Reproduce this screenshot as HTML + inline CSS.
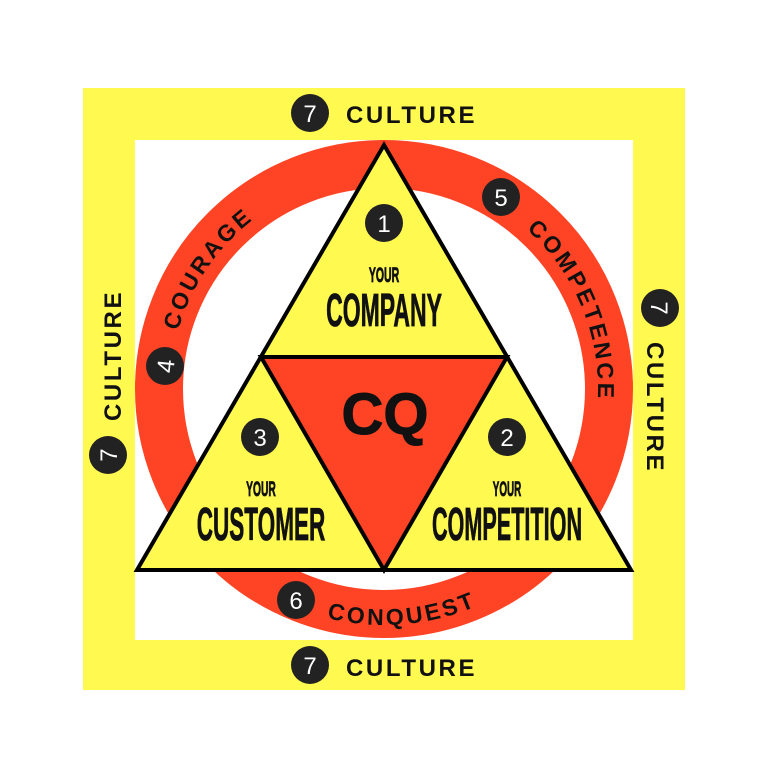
<!DOCTYPE html>
<html><head><meta charset="utf-8"><style>
html,body{margin:0;padding:0;background:#fff;}
svg{display:block}
.cul{font-family:"Liberation Sans",sans-serif;font-weight:bold;font-size:24px;letter-spacing:2.6px;fill:#111}
.num{font-family:"Liberation Sans",sans-serif;font-size:24px;fill:#fff;text-anchor:middle}
.ring{font-family:"Liberation Sans",sans-serif;font-weight:bold;font-size:23px;letter-spacing:3px;fill:#111}
.cond{font-family:"Liberation Sans",sans-serif;font-weight:bold;fill:#111;text-anchor:middle;stroke:#111;stroke-width:0.8}
</style></head><body>
<svg width="768" height="780" viewBox="0 0 768 780">
<defs>
<path id="topArc" d="M 198.7 496 A 214 214 0 1 1 569.3 496"/>
<path id="botArc" d="M 148 389 A 236 236 0 0 0 620 389"/>
</defs>
<rect x="83" y="88" width="602" height="602" fill="#fff950"/>
<rect x="135" y="140" width="498" height="500" fill="#fff"/>
<circle cx="384" cy="389" r="225" fill="none" stroke="#ff4425" stroke-width="48"/>
<polygon points="384,145 137,570 631,570" fill="#fff950" stroke="#000" stroke-width="4"/>
<polygon points="261,357 507,357 384,570" fill="#ff4425" stroke="#000" stroke-width="4"/>
<text class="ring"><textPath href="#topArc" startOffset="240" text-anchor="middle">COURAGE</textPath></text>
<text class="ring"><textPath href="#topArc" startOffset="700" text-anchor="middle">COMPETENCE</textPath></text>
<text class="ring"><textPath href="#botArc" startOffset="390" text-anchor="middle">CONQUEST</textPath></text>
<g>
<circle cx="310" cy="113" r="19" fill="#222"/><text class="num" x="310" y="122">7</text>
<circle cx="310" cy="665" r="19" fill="#222"/><text class="num" x="310" y="674">7</text>
<circle cx="108" cy="455" r="19" fill="#222"/><text class="num" transform="rotate(-90 108 455)" x="108" y="464">7</text>
<circle cx="660" cy="308" r="19" fill="#222"/><text class="num" transform="rotate(90 660 308)" x="660" y="317">7</text>
<circle cx="165" cy="366" r="19" fill="#222"/><text class="num" transform="rotate(-84 165 366)" x="165" y="375">4</text>
<circle cx="501" cy="197" r="19" fill="#222"/><text class="num" x="501" y="206">5</text>
<circle cx="296" cy="600" r="19" fill="#222"/><text class="num" x="296" y="609">6</text>
<circle cx="384" cy="223" r="19" fill="#222"/><text class="num" x="384" y="232">1</text>
<circle cx="260" cy="437" r="19" fill="#222"/><text class="num" x="260" y="446">3</text>
<circle cx="507" cy="437" r="19" fill="#222"/><text class="num" x="507" y="446">2</text>
</g>
<text class="cul" x="346" y="123">CULTURE</text>
<text class="cul" x="346" y="676">CULTURE</text>
<text class="cul" transform="translate(121 421) rotate(-90)">CULTURE</text>
<text class="cul" transform="translate(647 342) rotate(90)">CULTURE</text>
<text x="385" y="434" font-family="Liberation Sans,sans-serif" font-weight="bold" font-size="58" text-anchor="middle" fill="#111" stroke="#111" stroke-width="1">CQ</text>
<g transform="translate(384 0) scale(0.5 1)"><text class="cond" x="0" y="282" font-size="21">YOUR</text><text class="cond" x="0" y="326" font-size="46">COMPANY</text></g>
<g transform="translate(261 0) scale(0.49 1)"><text class="cond" x="0" y="496" font-size="21">YOUR</text><text class="cond" x="0" y="540" font-size="46">CUSTOMER</text></g>
<g transform="translate(507 0) scale(0.47 1)"><text class="cond" x="0" y="496" font-size="21">YOUR</text><text class="cond" x="0" y="540" font-size="46">COMPETITION</text></g>
</svg>
</body></html>
